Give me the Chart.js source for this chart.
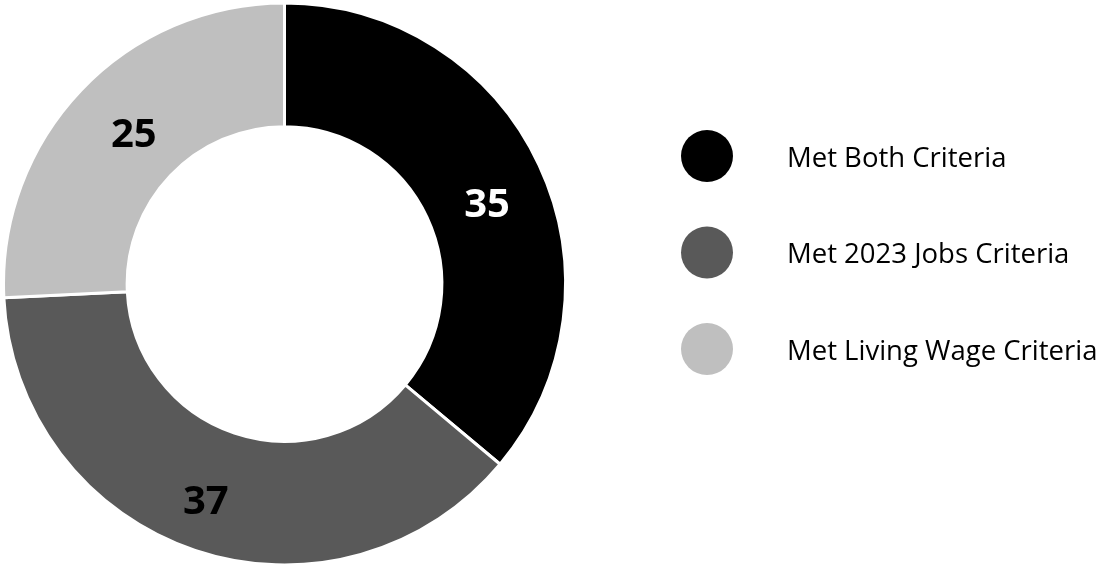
<!DOCTYPE html>
<html lang="en">
<head>
    <meta charset="UTF-8">
    <title>Criteria Doughnut</title>
    <script src="https://cdn.jsdelivr.net/npm/chart.js"></script>
    <style>
        html, body { margin: 0; padding: 0; background: #fff; }
        #wrap { width: 1104px; height: 567px; position: relative; }
    </style>
</head>
<body>
    <div id="wrap"><canvas id="donut"></canvas></div>

    <script>
        // data
        const categories = ["Met Both Criteria", "Met 2023 Jobs Criteria", "Met Living Wage Criteria"];
        const counts = [35, 37, 25];
        const sliceColors = ["#000000", "#595959", "#bfbfbf"];
        const labelColors = ["#ffffff", "#000000", "#000000"];

        const FONT = "'Open Sans', 'Noto Sans', sans-serif";

        // small nudges so the numbers sit where the original put them
        const labelNudge = [[4, 14], [-9, 11], [8, 3]];

        // numbers in the middle of each slice
        const sliceLabels = {
            id: "sliceLabels",
            afterDatasetsDraw(chart) {
                const ctx = chart.ctx;
                const meta = chart.getDatasetMeta(0);
                ctx.save();
                ctx.font = "bold 40px " + FONT;
                ctx.textAlign = "center";
                ctx.textBaseline = "middle";
                meta.data.forEach((arc, i) => {
                    const p = arc.tooltipPosition();
                    ctx.fillStyle = labelColors[i];
                    ctx.fillText(String(counts[i]), p.x + labelNudge[i][0], p.y + labelNudge[i][1]);
                });
                ctx.restore();
            }
        };

        // legend with big dots on the right
        const dotLegend = {
            id: "dotLegend",
            afterDraw(chart) {
                const ctx = chart.ctx;
                ctx.save();
                ctx.font = "27.5px " + FONT;
                ctx.textBaseline = "middle";
                ctx.textAlign = "left";
                categories.forEach((name, i) => {
                    const cy = 156 + i * 96.5;
                    ctx.beginPath();
                    ctx.arc(707, cy, 26, 0, Math.PI * 2);
                    ctx.fillStyle = sliceColors[i];
                    ctx.fill();
                    ctx.fillStyle = "#000000";
                    ctx.fillText(name, 787, cy + 3);
                });
                ctx.restore();
            }
        };

        new Chart(document.getElementById("donut"), {
            type: "doughnut",
            data: {
                labels: categories,
                datasets: [{
                    data: counts,
                    backgroundColor: sliceColors,
                    borderColor: "#ffffff",
                    borderWidth: 3
                }]
            },
            options: {
                responsive: true,
                maintainAspectRatio: false,
                animation: false,
                cutout: "56%",
                layout: { padding: { left: 2, top: 1, bottom: 0, right: 537 } },
                plugins: {
                    legend: { display: false },
                    tooltip: { enabled: false }
                }
            },
            plugins: [sliceLabels, dotLegend]
        });
    </script>
</body>
</html>
